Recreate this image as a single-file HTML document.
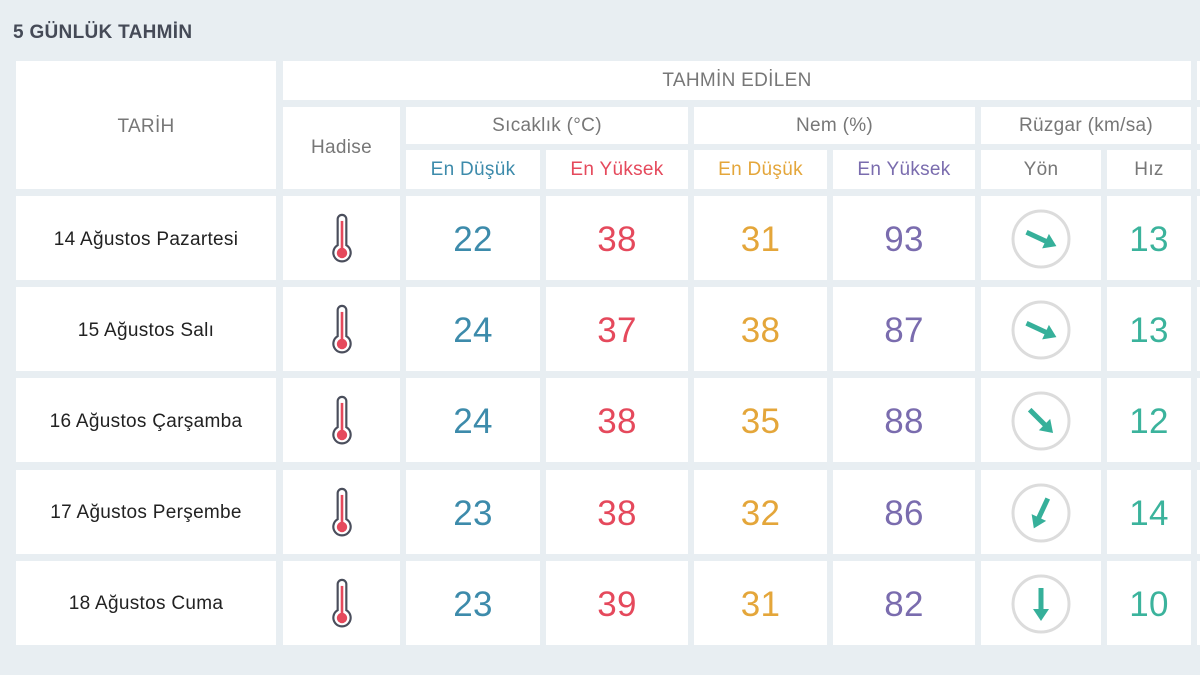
<!DOCTYPE html>
<html><head><meta charset="utf-8"><style>
body{margin:0;width:1200px;height:675px;background:#e8eef2;font-family:"Liberation Sans",sans-serif;overflow:hidden;position:relative}
.c{position:absolute;background:#fff;display:flex;align-items:center;justify-content:center;color:#777;font-size:19px;letter-spacing:0.3px}
.n{font-size:35px;padding-top:4px;box-sizing:border-box}
.t{position:absolute;left:13px;top:22px;font-size:19px;font-weight:bold;color:#454a57;letter-spacing:0.3px}
.b{color:#3d8bab}.r{color:#e5495c}.o{color:#e4a63a}.p{color:#7a6cae}.g{color:#3bb39c}
.d{color:#222;font-size:19px;padding-top:3px;box-sizing:border-box}
</style></head><body>
<div class="t">5 GÜNLÜK TAHMİN</div>
<div class="c" style="left:16px;top:61px;width:260px;height:128px;align-items:flex-start"><span style="margin-top:55px">TARİH</span></div>
<div class="c" style="left:283px;top:61px;width:908px;height:39px">TAHMİN EDİLEN</div>
<div class="c" style="left:1197px;top:61px;width:10px;height:39px"></div>
<div class="c" style="left:283px;top:107px;width:117px;height:82px">Hadise</div>
<div class="c" style="left:406px;top:107px;width:282px;height:37px">Sıcaklık (°C)</div>
<div class="c" style="left:694px;top:107px;width:281px;height:37px">Nem (%)</div>
<div class="c" style="left:981px;top:107px;width:210px;height:37px">Rüzgar (km/sa)</div>
<div class="c" style="left:1197px;top:107px;width:10px;height:37px"></div>
<div class="c b" style="left:406px;top:150px;width:134px;height:39px">En Düşük</div>
<div class="c r" style="left:546px;top:150px;width:142px;height:39px">En Yüksek</div>
<div class="c o" style="left:694px;top:150px;width:133px;height:39px">En Düşük</div>
<div class="c p" style="left:833px;top:150px;width:142px;height:39px">En Yüksek</div>
<div class="c" style="left:981px;top:150px;width:120px;height:39px">Yön</div>
<div class="c" style="left:1107px;top:150px;width:84px;height:39px">Hız</div>
<div class="c" style="left:1197px;top:150px;width:10px;height:39px"></div>
<div id="rows"></div>
<script>
var data=[["14 Ağustos Pazartesi",22,38,31,93,25,13],["15 Ağustos Salı",24,37,38,87,25,13],["16 Ağustos Çarşamba",24,38,35,88,45,12],["17 Ağustos Perşembe",23,38,32,86,115,14],["18 Ağustos Cuma",23,39,31,82,90,10]];
var h="";
var th='<svg width="26" height="56" viewBox="0 0 30 60" style="margin-top:4px"><path d="M10 6a5 5 0 0 1 10 0v30a10 10 0 1 1-10 0z" fill="#fff" stroke="#4a4e5c" stroke-width="2.5"/><rect x="13.5" y="8" width="3" height="34" fill="#e5495c"/><circle cx="15" cy="45" r="6" fill="#e5495c"/></svg>';
data.forEach(function(d,i){var y=196+i*91.2;
function c(l,w,cl,txt){h+='<div class="c '+cl+'" style="left:'+l+'px;top:'+y+'px;width:'+w+'px;height:84px">'+txt+'</div>';}
c(16,260,"d",d[0]);c(283,117,"",th);c(406,134,"n b",d[1]);c(546,142,"n r",d[2]);c(694,133,"n o",d[3]);c(833,142,"n p",d[4]);
c(981,120,"",'<svg width="64" height="64" viewBox="-32 -32 64 64" style="margin-top:2px"><circle r="28" fill="none" stroke="#dcdcdc" stroke-width="3"/><g transform="rotate('+d[5]+')"><line x1="-16" y1="0" x2="8" y2="0" stroke="#36b09a" stroke-width="5"/><polygon points="17,0 5,-8 5,8" fill="#36b09a"/></g></svg>');
c(1107,84,"n g",d[6]);c(1197,10,"","");});
document.getElementById("rows").innerHTML=h;
</script>
</body></html>
